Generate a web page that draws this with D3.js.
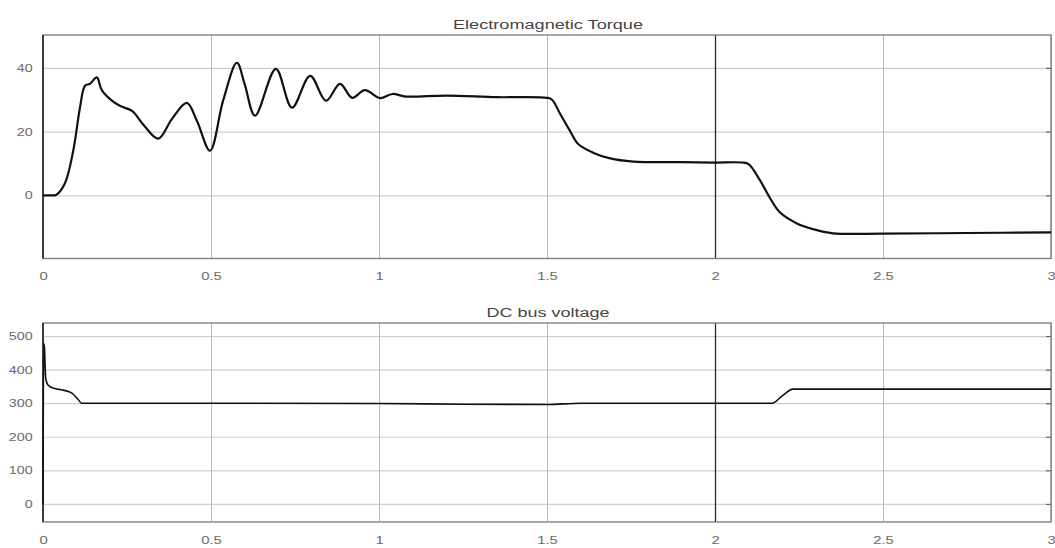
<!DOCTYPE html>
<html>
<head>
<meta charset="utf-8">
<script src="https://cdn.jsdelivr.net/npm/d3@7"></script>
<style>
  body { margin: 0; background: #fff; }
  text { font-family: "Liberation Sans", Arial, sans-serif; }
</style>
</head>
<body>
<div id="chart-area"></div>
<script>

// time ticks shared by both plots
let timeTicks = [0, 0.5, 1, 1.5, 2, 2.5, 3];
let timeLabels = ["0", "0.5", "1", "1.5", "2", "2.5", "3"];

// Electromagnetic torque
let torqueT = [0, 0.02, 0.04, 0.065, 0.09, 0.11, 0.125, 0.14, 0.16, 0.175, 0.205, 0.23, 0.265, 0.3, 0.343,
  0.384, 0.428, 0.458, 0.497, 0.536, 0.577, 0.6, 0.631, 0.693, 0.741, 0.795, 0.842, 0.884,
  0.92, 0.958, 1.003, 1.04, 1.08, 1.2, 1.35, 1.5, 1.515, 1.539, 1.568, 1.592, 1.637, 1.688, 1.756, 1.9,
  2.0, 2.08, 2.1, 2.134, 2.164, 2.193, 2.244, 2.292, 2.351, 2.5, 2.75, 3];
let torqueV = [0, 0, 0.2, 3.7, 14, 27.5, 34.4, 35, 37, 33, 29.7, 28, 26.5, 22, 17.8,
  24, 29, 23.4, 14, 29.7, 41.6, 35, 25, 39.7, 27.5, 37.5, 29.7, 35,
  30.6, 33, 30.5, 31.8, 31, 31.3, 30.8, 30.6, 30, 25.6, 20.3, 16.2, 13.4, 11.6, 10.6, 10.4,
  10.3, 10.3, 9.8, 4.7, -0.9, -5.3, -8.8, -10.6, -11.9, -12, -11.8, -11.6];
let torqueTicks = [0, 20, 40];

// DC bus voltage
let busT = [0, 0.002, 0.004, 0.008, 0.015, 0.03, 0.06, 0.086, 0.104, 0.115, 0.5, 1.0, 1.25, 1.5,
  1.6, 2.0, 2.17, 2.2, 2.232, 2.5, 3];
let busV = [0, 478, 470, 375, 354, 345, 339, 330, 312, 300, 300, 299, 297, 296,
  300, 300, 300, 322, 342, 342, 342];
let busTicks = [0, 100, 200, 300, 400, 500];

let plots = [
  {title: "Electromagnetic Torque", titleWidth: 190, t: torqueT, v: torqueV, ticks: torqueTicks,
   domain: [-19.8, 50.3], top: 35, bottom: 258.5, lineWidth: 2.2,
   curve: d3.curveCatmullRom.alpha(0.5)},
  {title: "DC bus voltage", titleWidth: 123, t: busT, v: busV, ticks: busTicks,
   domain: [-54, 539], top: 323, bottom: 522, lineWidth: 1.6,
   curve: d3.curveMonotoneX}
];

let left = 43, right = 1051;

let svg = d3.select("#chart-area").append("svg")
    .attr("width", 1055)
    .attr("height", 548);

let x = d3.scaleLinear().domain([0, 3]).range([left, right]);

plots.forEach(function(p) {
  let h = p.bottom - p.top;
  let y = d3.scaleLinear().domain(p.domain).range([p.bottom, p.top]);

  let g = svg.append("g");

  // horizontal grid
  g.append("g")
      .attr("transform", "translate(" + left + ",0)")
      .call(d3.axisLeft(y).tickValues(p.ticks).tickSize(-(right - left)).tickFormat(""))
      .call(s => s.select(".domain").remove())
      .selectAll("line").attr("stroke", "#cfcfcf").attr("stroke-width", 1.2);

  // vertical grid (the t=2 line shows darker)
  g.append("g")
      .attr("transform", "translate(0," + p.bottom + ")")
      .call(d3.axisBottom(x).tickValues(timeTicks).tickSize(-h).tickFormat(""))
      .call(s => s.select(".domain").remove())
      .selectAll("line")
      .attr("stroke", d => d === 2 ? "#2a2a2a" : "#b8b8b8")
      .attr("stroke-width", d => d === 2 ? 1.3 : 1);

  // right side ticks
  g.append("g")
      .attr("transform", "translate(" + right + ",0)")
      .call(d3.axisRight(y).tickValues(p.ticks).tickSize(-5).tickFormat(""))
      .call(s => s.select(".domain").remove())
      .selectAll("line").attr("stroke", "#555");

  // frame
  g.append("rect")
      .attr("x", left).attr("y", p.top)
      .attr("width", right - left).attr("height", h)
      .attr("fill", "none").attr("stroke", "#7a7a7a").attr("stroke-width", 1.3);

  g.append("line")
      .attr("x1", left).attr("x2", left).attr("y1", p.top).attr("y2", p.bottom)
      .attr("stroke", "#222").attr("stroke-width", 1.6);

  // tick labels (the picture is stretched sideways, so stretch the text too)
  g.append("g")
      .attr("transform", "translate(" + left + ",0)")
      .call(d3.axisLeft(y).tickValues(p.ticks).tickSize(0).tickPadding(8))
      .call(s => s.select(".domain").remove())
      .selectAll("text")
      .attr("transform", "scale(1.3,1)")
      .attr("fill", "#6a6a6a").style("font-size", "11px");

  g.append("g")
      .attr("transform", "translate(0," + p.bottom + ")")
      .call(d3.axisBottom(x).tickValues(timeTicks).tickSize(0).tickPadding(14)
        .tickFormat((d, i) => timeLabels[i]))
      .call(s => s.select(".domain").remove())
      .selectAll("text")
      .attr("transform", "scale(1.35,1)")
      .attr("fill", "#6a6a6a").style("font-size", "11px");

  // title
  g.append("text")
      .attr("x", 548 - p.titleWidth / 2).attr("y", p.top - 6)
      .attr("fill", "#444")
      .attr("textLength", p.titleWidth)
      .attr("lengthAdjust", "spacingAndGlyphs")
      .style("font-size", "12.5px")
      .text(p.title);

  // the trace
  let pts = p.t.map((t, i) => [t, p.v[i]]);
  let line = d3.line()
      .x(d => x(d[0]))
      .y(d => y(d[1]))
      .curve(p.curve);

  g.append("path")
      .datum(pts)
      .attr("d", line)
      .attr("fill", "none")
      .attr("stroke", "#111")
      .attr("stroke-width", p.lineWidth)
      .attr("stroke-linejoin", "round");
});

</script>
</body>
</html>
